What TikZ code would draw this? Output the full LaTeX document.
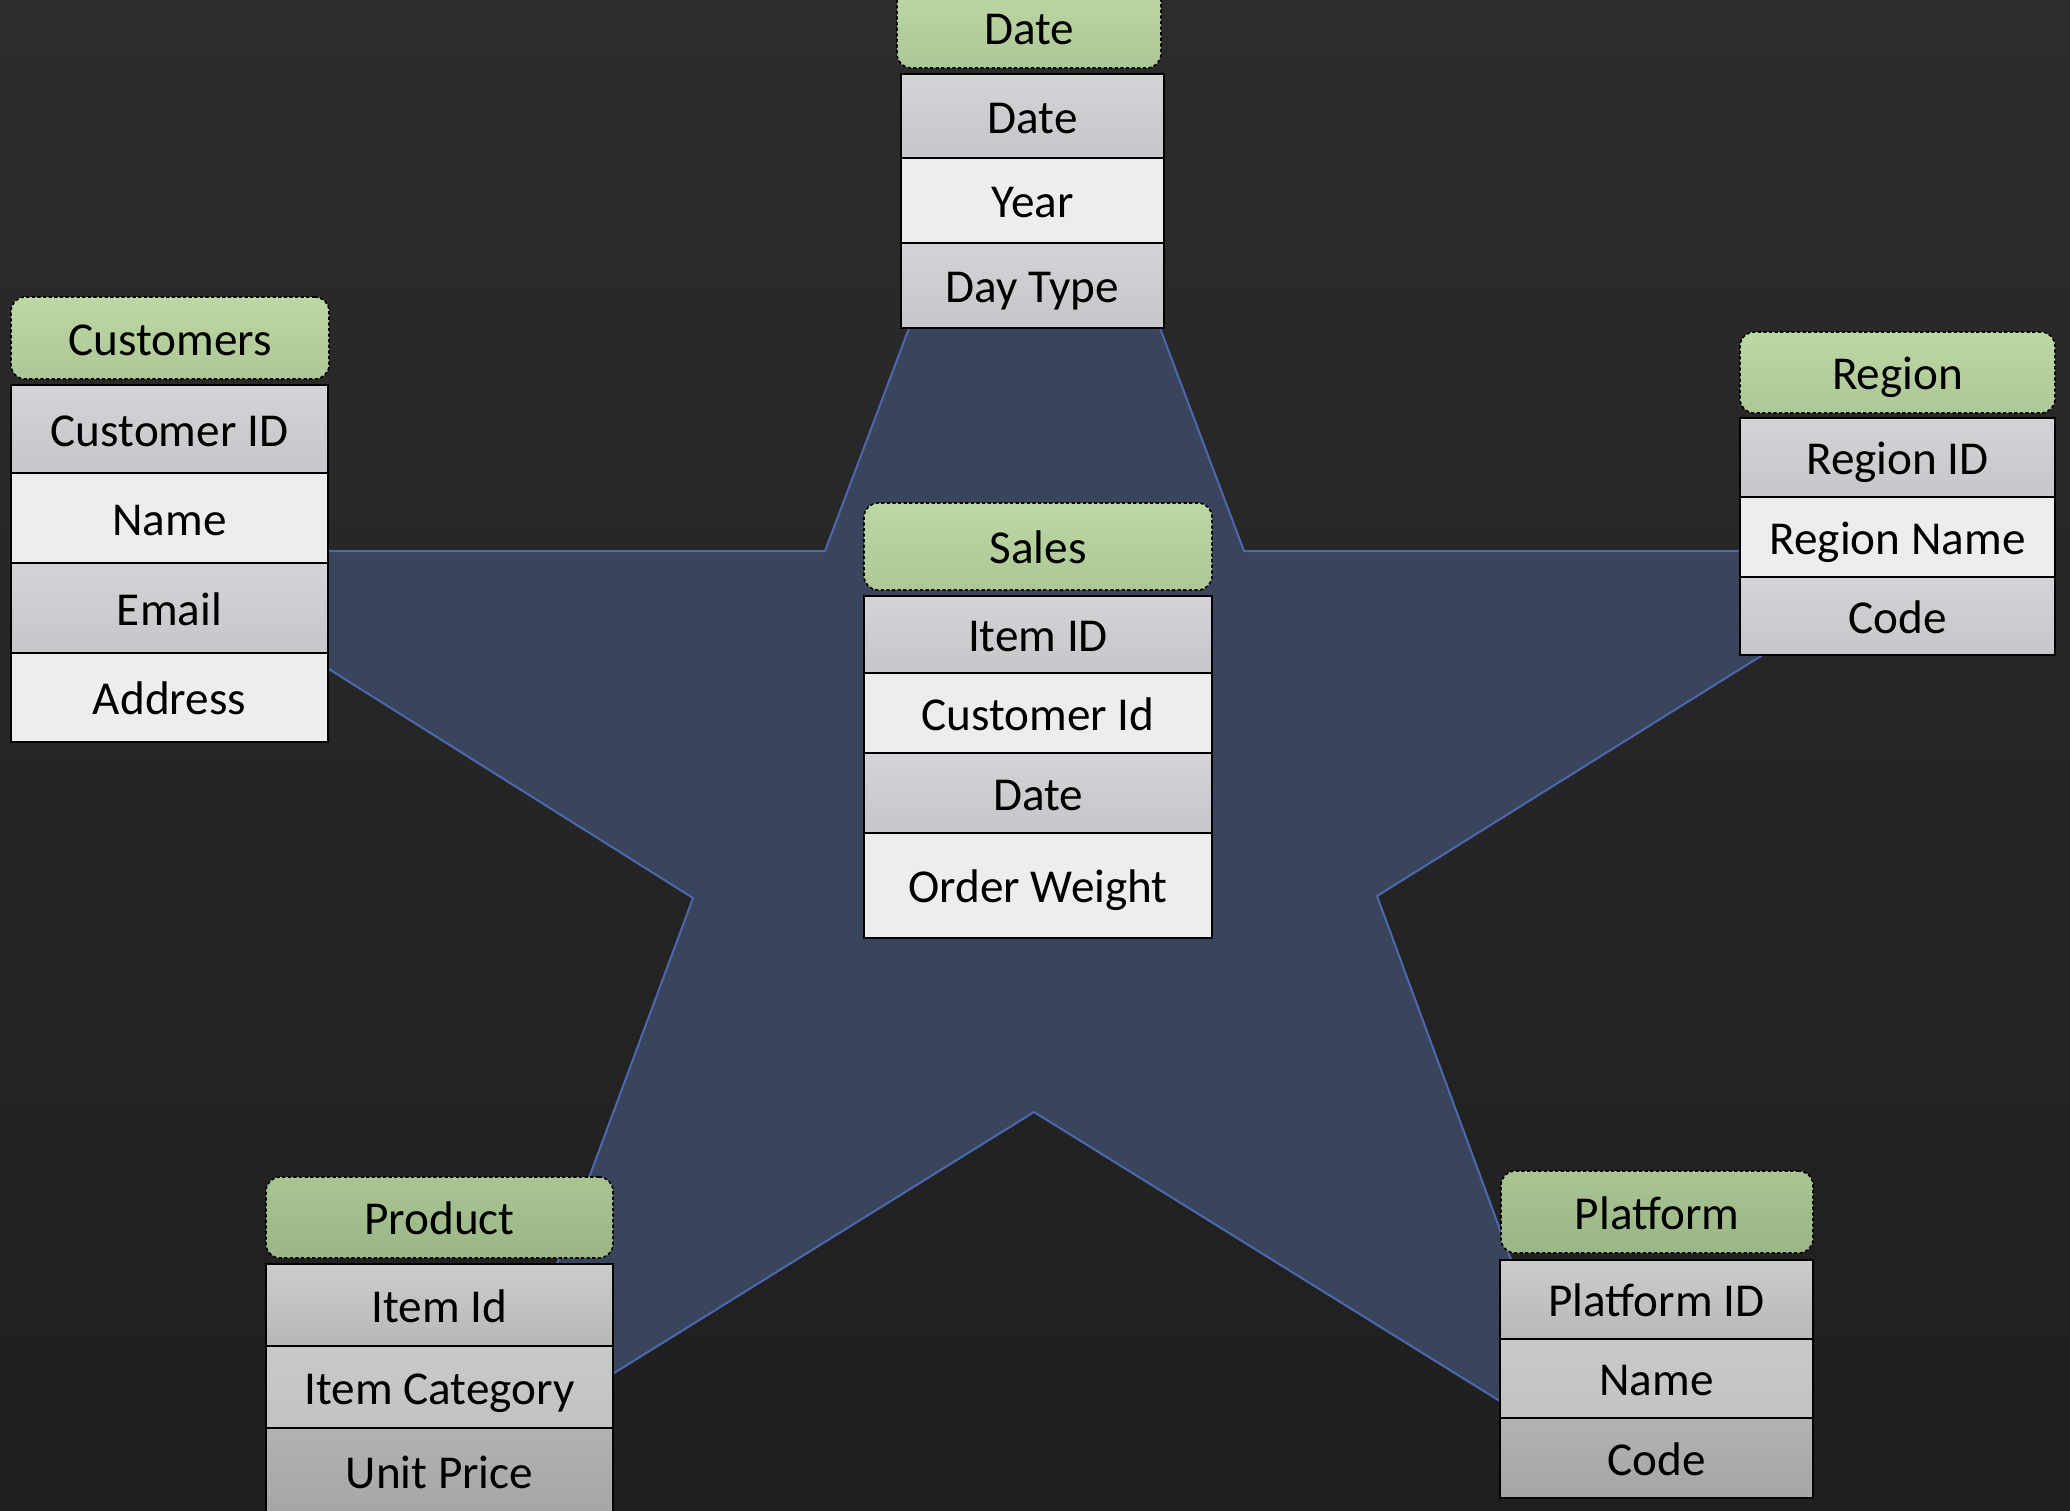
\documentclass[tikz,border=0pt]{standalone}
\usepackage{fontspec}
\setmainfont{Carlito}
\definecolor{bgtop}{HTML}{2C2C2C}
\definecolor{bgbot}{HTML}{1F1F1F}
\definecolor{starfill}{HTML}{39445D}
\definecolor{staredge}{HTML}{4D69AE}
\definecolor{hdrA}{HTML}{BCD8A3}
\definecolor{hdrB}{HTML}{A9C592}
\definecolor{rowdk}{HTML}{D3D3D7}
\definecolor{rowlt}{HTML}{EDEDF0}
\tikzset{
  cellbase/.style={draw=black, line width=0.9pt, inner sep=0pt,
    text height=19.6pt, text depth=2.2pt, font=\fontsize{23.6}{28}\selectfont},
  hdr/.style={cellbase, draw=black, dash pattern=on 1.6pt off 1.2pt, line width=0.8pt,
    rounded corners=7pt, top color=hdrA, bottom color=hdrA!92!black},
  hdrlow/.style={hdr, top color=hdrB, bottom color=hdrB!92!black},
  dk/.style={cellbase, top color=rowdk!98!white, bottom color=rowdk!94!black},
  lt/.style={cellbase, fill=rowlt},
  gA/.style={cellbase, top color=black!20, bottom color=black!28},
  gB/.style={cellbase, top color=black!21, bottom color=black!24},
  gC/.style={cellbase, top color=black!30, bottom color=black!35},
}
\newcommand\tcell[7]{\node[#6, minimum width={(#4-#2)*0.5pt}, minimum height={(#5-#3)*0.5pt}] (#1) at ({(#2+#4)/2},{(#3+#5)/2}) {#7};}
\begin{document}
\begin{tikzpicture}[x=0.5pt, y=-0.5pt]
\useasboundingbox (0,0) rectangle (2070,1510);
\clip (0,0) rectangle (2070,1510);
\shade[top color=bgtop, bottom color=bgbot] (0,0) rectangle (2070,1510);
% star (top tip hidden behind the Date table)
\filldraw[fill=starfill, draw=staredge, line width=1pt, line join=miter]
  (995,100) -- (1074,100) -- (1244,551) -- (1929,551) -- (1377,896) -- (1582,1452)
  -- (1034,1112) -- (487,1452) -- (693,898) -- (141,551) -- (825,551) -- cycle;
% Date
\tcell{dateh}{897}{-14}{1161}{68}{hdr}{Date}
\tcell{date1}{901}{74}{1164}{158}{dk}{Date}
\tcell{date2}{901}{158}{1164}{243}{lt}{Year}
\tcell{date3}{901}{243}{1164}{328}{dk}{Day Type}
% Customers
\tcell{custh}{11}{297}{329}{379}{hdr}{Customers}
\tcell{cust1}{11}{385}{328}{473}{dk}{Customer ID}
\tcell{cust2}{11}{473}{328}{563}{lt}{Name}
\tcell{cust3}{11}{563}{328}{653}{dk}{Email}
\tcell{cust4}{11}{653}{328}{742}{lt}{Address}
% Sales
\tcell{salesh}{864}{503}{1212}{590}{hdr}{Sales}
\tcell{sales1}{864}{596}{1212}{673}{dk}{Item ID}
\tcell{sales2}{864}{673}{1212}{753}{lt}{Customer Id}
\tcell{sales3}{864}{753}{1212}{833}{dk}{Date}
\tcell{sales4}{864}{833}{1212}{938}{lt}{Order Weight}
% Region
\tcell{regh}{1740}{332}{2055}{413}{hdr}{Region}
\tcell{reg1}{1740}{418}{2055}{497}{dk}{Region ID}
\tcell{reg2}{1740}{497}{2055}{577}{lt}{Region Name}
\tcell{reg3}{1740}{577}{2055}{655}{dk}{Code}
% Product
\tcell{prodh}{266}{1177}{613}{1258}{hdrlow}{Product}
\tcell{prod1}{266}{1264}{613}{1346}{gA}{Item Id}
\tcell{prod2}{266}{1346}{613}{1428}{gB}{Item Category}
\tcell{prod3}{266}{1428}{613}{1514}{gC}{Unit Price}
% Platform
\tcell{plath}{1501}{1171}{1813}{1253}{hdrlow}{Platform}
\tcell{plat1}{1500}{1260}{1813}{1339}{gA}{Platform ID}
\tcell{plat2}{1500}{1339}{1813}{1418}{gB}{Name}
\tcell{plat3}{1500}{1418}{1813}{1498}{gC}{Code}
\end{tikzpicture}
\end{document}
